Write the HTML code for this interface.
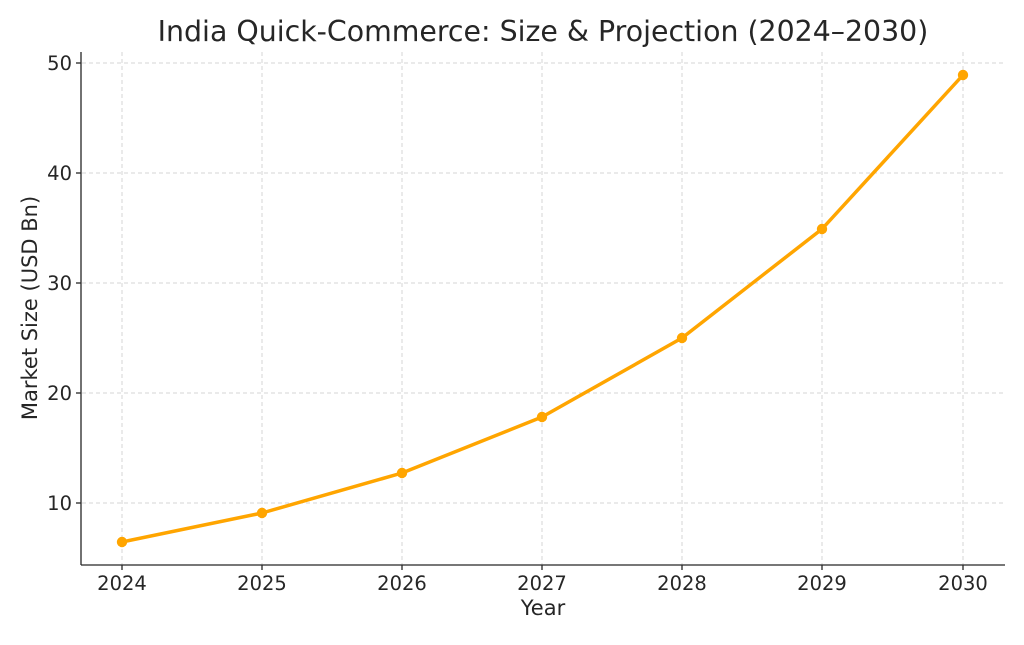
<!DOCTYPE html>
<html><head><meta charset="utf-8"><style>
body{margin:0;background:#fff;}
svg text{font-family:"DejaVu Sans","Liberation Sans",sans-serif;fill:#262626;}
</style></head><body>
<svg width="1024" height="640" viewBox="0 0 1024 640" xmlns="http://www.w3.org/2000/svg">
<rect width="1024" height="640" fill="#fff"/>
<text x="543" y="41" font-size="28.4" text-anchor="middle" fill="#333">India Quick-Commerce: Size &amp; Projection (2024–2030)</text>
<g stroke="#d6d6d6" stroke-width="1" stroke-dasharray="4,3">
<line x1="82" y1="503" x2="1005" y2="503"/>
<line x1="82" y1="393" x2="1005" y2="393"/>
<line x1="82" y1="283" x2="1005" y2="283"/>
<line x1="82" y1="173" x2="1005" y2="173"/>
<line x1="82" y1="63" x2="1005" y2="63"/>
<line x1="122" y1="52" x2="122" y2="565"/>
<line x1="262" y1="52" x2="262" y2="565"/>
<line x1="402" y1="52" x2="402" y2="565"/>
<line x1="542" y1="52" x2="542" y2="565"/>
<line x1="682" y1="52" x2="682" y2="565"/>
<line x1="822" y1="52" x2="822" y2="565"/>
<line x1="963" y1="52" x2="963" y2="565"/>
</g>
<g stroke="#262626" stroke-width="1.3">
<line x1="81" y1="52" x2="81" y2="565"/>
<line x1="81" y1="565" x2="1005" y2="565"/>
<line x1="76" y1="503" x2="81" y2="503"/>
<line x1="76" y1="393" x2="81" y2="393"/>
<line x1="76" y1="283" x2="81" y2="283"/>
<line x1="76" y1="173" x2="81" y2="173"/>
<line x1="76" y1="63" x2="81" y2="63"/>
<line x1="122" y1="565" x2="122" y2="570"/>
<line x1="262" y1="565" x2="262" y2="570"/>
<line x1="402" y1="565" x2="402" y2="570"/>
<line x1="542" y1="565" x2="542" y2="570"/>
<line x1="682" y1="565" x2="682" y2="570"/>
<line x1="822" y1="565" x2="822" y2="570"/>
<line x1="963" y1="565" x2="963" y2="570"/>
</g>
<g font-size="19.5" text-anchor="end">
<text x="72" y="510">10</text>
<text x="72" y="400">20</text>
<text x="72" y="290">30</text>
<text x="72" y="180">40</text>
<text x="72" y="70">50</text>
</g>
<g font-size="19.5" text-anchor="middle">
<text x="122" y="590">2024</text>
<text x="262" y="590">2025</text>
<text x="402" y="590">2026</text>
<text x="542" y="590">2027</text>
<text x="682" y="590">2028</text>
<text x="822" y="590">2029</text>
<text x="963" y="590">2030</text>
<text x="543" y="615" font-size="21">Year</text>
</g>
<text transform="translate(37,308) rotate(-90)" font-size="21" text-anchor="middle">Market Size (USD Bn)</text>
<polyline fill="none" stroke="#FFA500" stroke-width="3.5" stroke-linejoin="round" points="122,542 262,513 402,473 542,417 682,338 822,229 963,75"/>
<g fill="#FFA500">
<circle cx="122" cy="542" r="5.2"/><circle cx="262" cy="513" r="5.2"/><circle cx="402" cy="473" r="5.2"/><circle cx="542" cy="417" r="5.2"/><circle cx="682" cy="338" r="5.2"/><circle cx="822" cy="229" r="5.2"/><circle cx="963" cy="75" r="5.2"/>
</g>
</svg>
</body></html>
